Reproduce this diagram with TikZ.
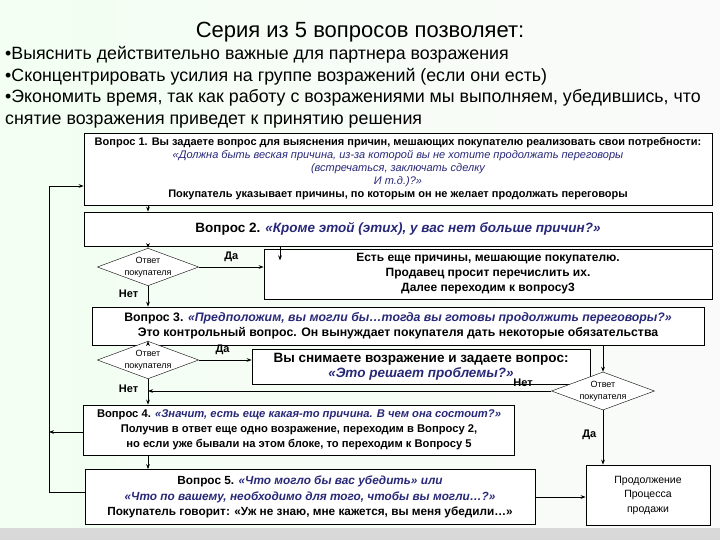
\documentclass[tikz,border=0pt]{standalone}
\usepackage{fontspec}
\setmainfont{Liberation Sans}
\usetikzlibrary{shapes.geometric,arrows.meta}
\definecolor{qblue}{RGB}{40,40,120}
\newcommand\qq{\color{qblue}\itshape}
\newcommand\fs[1]{\fontsize{#1}{#1}\selectfont}
\begin{document}
\begin{tikzpicture}[x=1pt,y=-1pt,
  box/.style={draw,thick,fill=white,align=center,inner sep=2pt,font=\bfseries},
  dia/.style={draw,diamond,aspect=2.7,fill=white,align=center,inner sep=0pt,minimum width=93pt,minimum height=35pt,font=\fontsize{9}{12}\selectfont},
  lab/.style={font=\fontsize{11}{13}\selectfont\bfseries},
  arr/.style={thick,-{Stealth[length=5pt]}},
  ln/.style={thick}]
\useasboundingbox (0,0) rectangle (720,540);
\fill[left color=green!5!white,right color=gray!4] (0,0) rectangle (720,540);
\fill[gray!30] (0,528) rectangle (720,540);
\node (title) at (360,32) {\fontsize{22}{24}\selectfont Серия из 5 вопросов позволяет:};
\node[anchor=north west,align=left,inner sep=0pt,font=\fontsize{17.8}{21.7}\selectfont] (bul) at (5,46) {•Выяснить действительно важные для партнера возражения\\•Сконцентрировать усилия на группе возражений (если они есть)\\•Экономить время, так как работу с возражениями мы выполняем, убедившись, что\\снятие возражения приведет к принятию решения};
\node[box,minimum width=628pt,minimum height=72pt,font=\fontsize{11}{13}\selectfont\bfseries] (q1) at (398,169) {Вопрос 1. Вы задаете вопрос для выяснения причин, мешающих покупателю реализовать свои потребности:\\
{\mdseries\qq «Должна быть веская причина, из-за которой вы не хотите продолжать переговоры}\\
{\mdseries\qq (встречаться, заключать сделку}\\{\mdseries\qq И т.д.)?»}\\Покупатель указывает причины, по которым он не желает продолжать переговоры};
\node[box,minimum width=628pt,minimum height=34pt,font=\fontsize{13.5}{15}\selectfont\bfseries] (q2) at (398,229) {Вопрос 2. {\qq «Кроме этой (этих), у вас нет больше причин?»}};
\node[dia] (d1) at (148,267) {Ответ\\покупателя};
\node[box,minimum width=448pt,minimum height=50pt,font=\fontsize{12}{15}\selectfont\bfseries] (yes1) at (488,274) {Есть еще причины, мешающие покупателю.\\Продавец просит перечислить их.\\Далее переходим к вопросу3};
\node[box,minimum width=612pt,minimum height=38pt,font=\fontsize{12.3}{15}\selectfont\bfseries] (q3) at (398,326) {Вопрос 3. {\qq «Предположим, вы могли бы…тогда вы готовы продолжить переговоры?»}\\Это контрольный вопрос. Он вынуждает покупателя дать некоторые обязательства};
\node[dia] (d2) at (148,360) {Ответ\\покупателя};
\node[box,minimum width=338pt,minimum height=35pt,font=\fontsize{13.5}{15.5}\selectfont\bfseries] (yes2) at (421,367) {Вы снимаете возражение и задаете вопрос:\\{\qq «Это решает проблемы?»}};
\node[dia,minimum width=103pt,minimum height=38pt] (d3) at (603,391) {Ответ\\покупателя};
\node[box,minimum width=431pt,minimum height=50pt,font=\fontsize{11.2}{15}\selectfont\bfseries] (q4) at (299,430) {Вопрос 4. {\qq «Значит, есть еще какая-то причина. В чем она состоит?»}\\Получив в ответ еще одно возражение, переходим в Вопросу 2,\\но если уже бывали на этом блоке, то переходим к Вопросу 5};
\node[box,minimum width=450pt,minimum height=55pt,font=\fontsize{11.8}{15.5}\selectfont\bfseries] (q5) at (310,497) {Вопрос 5. {\qq «Что могло бы вас убедить» или}\\{\qq «Что по вашему, необходимо для того, чтобы вы могли…?»}\\Покупатель говорит: «Уж не знаю, мне кажется, вы меня убедили…»};
\node[box,minimum width=124pt,minimum height=60pt,font=\fontsize{10.5}{14.5}\selectfont] (cont) at (648,495) {Продолжение\\Процесса\\продажи};
\draw[arr] (q1.south -| d1) -- (q2.north -| d1);
\draw[arr] (q2.south -| d1) -- (d1.north);
\draw[arr] (q2.south -| 280,0) -- ++(0,14);
\draw[arr] (d1.east) -- (yes1.west |- d1) node[lab,pos=0.5,above=2pt] {Да};
\draw[arr] (d1.south) -- (q3.north -| d1) node[lab,pos=0.4,left=6pt] {Нет};
\draw[arr] (q3.south -| d1) -- (d2.north);
\draw[arr] (d2.east) -- (yes2.west |- d2) node[lab,pos=0.45,above=2pt] {Да};
\draw[arr] (d2.south) -- (q4.north -| d2) node[lab,pos=0.4,left=6pt] {Нет};
\draw[arr] (q3.south -| d3) -- (d3.north);
\coordinate (m3) at (d2.south |- d3);
\draw[arr] (d3.west) -- (m3) node[lab,pos=0.07,above=1pt] {Нет};
\draw[arr] (d3.south) -- (cont.north -| d3) node[lab,pos=0.45,left=3pt] {Да};
\draw[arr] (q4.south -| d2) -- (q5.north -| d2);
\draw[arr] (q5.east) -- (cont.west |- q5.east);
\coordinate (lb) at (49,492);
\coordinate (lt) at (49,186);
\draw[ln] (q5.west |- lb) -- (lb) -- (lt);
\draw[arr] (lt) -- (q1.west |- lt);
\draw[arr] (q4.west |- 0,432) -- (49,432);
\end{tikzpicture}
\end{document}
